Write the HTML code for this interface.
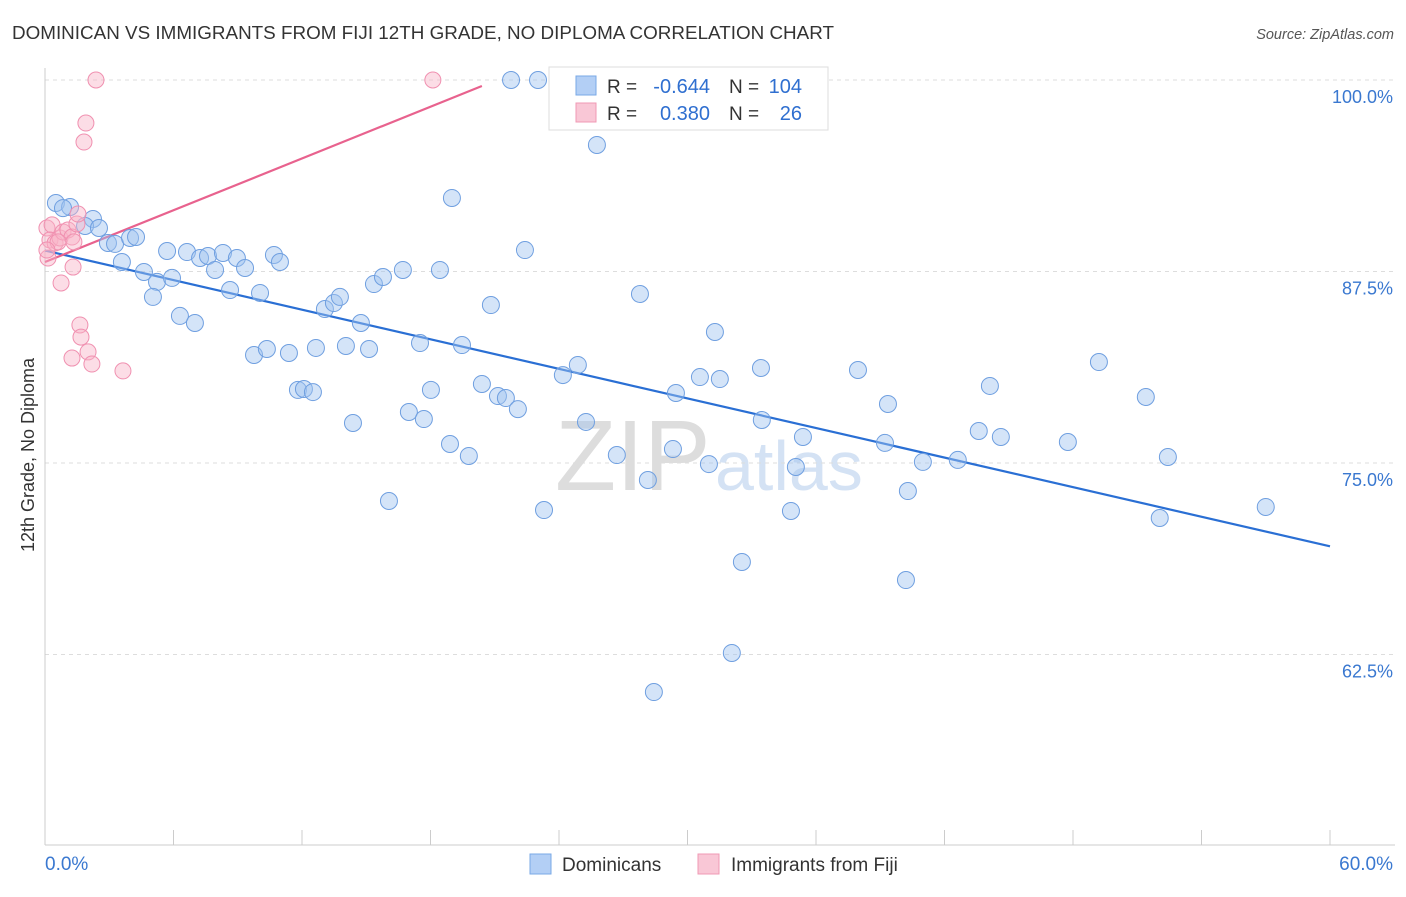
<!DOCTYPE html>
<html><head><meta charset="utf-8"><style>
body{margin:0;background:#fff;font-family:"Liberation Sans",sans-serif}
svg text{font-family:"Liberation Sans",sans-serif}
</style></head><body>
<svg id="chart" width="1406" height="892" xmlns="http://www.w3.org/2000/svg">
<text x="12" y="39" font-size="18" fill="#333" textLength="822" lengthAdjust="spacingAndGlyphs">DOMINICAN VS IMMIGRANTS FROM FIJI 12TH GRADE, NO DIPLOMA CORRELATION CHART</text>
<text x="1394" y="39" font-size="14.5" fill="#555" font-style="italic" text-anchor="end">Source: ZipAtlas.com</text>
<text transform="translate(34,455) rotate(-90)" font-size="18" fill="#333" text-anchor="middle">12th Grade, No Diploma</text>
<text x="555" y="490" font-size="100" fill="#ddd" font-family="Liberation Serif">ZIP</text>
<text x="715" y="490" font-size="70" fill="#d4e2f4">atlas</text>
<g id="grid"></g><g id="axes"></g><g id="trends"></g><g id="pts"></g>
<g>
<rect x="549" y="67" width="279" height="63" fill="#fff" stroke="#ddd"/>
<rect x="576" y="76" width="20" height="19" fill="#b3cff5" stroke="#7aa8e6"/>
<rect x="576" y="103" width="20" height="19" fill="#f9c7d6" stroke="#f09ab4"/>
<text x="607" y="93" font-size="19" fill="#333">R =</text>
<text x="710" y="93" font-size="20" fill="#2f6fd0" text-anchor="end">-0.644</text>
<text x="729" y="93" font-size="19" fill="#333">N =</text>
<text x="802" y="93" font-size="20" fill="#2f6fd0" text-anchor="end">104</text>
<text x="607" y="120" font-size="19" fill="#333">R =</text>
<text x="710" y="120" font-size="20" fill="#2f6fd0" text-anchor="end">0.380</text>
<text x="729" y="120" font-size="19" fill="#333">N =</text>
<text x="802" y="120" font-size="20" fill="#2f6fd0" text-anchor="end">26</text>
</g>
<g>
<rect x="530" y="854" width="21" height="20" fill="#b3cff5" stroke="#7aa8e6"/>
<text x="562" y="871" font-size="19" fill="#333">Dominicans</text>
<rect x="698" y="854" width="21" height="20" fill="#f9c7d6" stroke="#f09ab4"/>
<text x="731" y="871" font-size="19" fill="#333">Immigrants from Fiji</text>
</g>
</svg>
<script>
const yTicks=[100,87.5,75,62.5];
const yTickLabels=["100.0%","87.5%","75.0%","62.5%"];
const xTickVals=[0,6,12,18,24,30,36,42,48,54,60];
const blueX=[.51,1.17,.84,2.24,1.87,2.52,2.94,3.27,3.97,4.25,3.59,4.62,5.23,5.93,5.04,5.70,6.63,7.24,7.61,7.94,8.31,8.96,9.34,8.64,10.04,10.69,10.97,6.30,7.00,9.76,10.36,11.39,12.65,11.81,12.09,12.51,13.07,13.49,13.77,14.75,14.05,15.13,15.36,15.78,16.71,18.44,19.00,20.82,17.51,19.47,18.02,16.99,17.69,14.38,16.06,18.91,19.79,20.40,21.15,21.52,22.08,22.41,21.76,23.02,25.77,24.18,24.88,25.26,23.30,26.70,27.78,28.15,29.32,29.46,30.58,31.00,31.28,31.51,32.54,32.07,28.43,33.43,33.47,35.06,34.83,35.39,37.96,39.36,39.22,40.29,40.20,40.99,42.62,43.60,44.12,44.63,47.76,49.21,51.40,52.43,52.05,57.00];
const blueY=[91.97,91.71,91.64,90.93,90.47,90.34,89.36,89.30,89.69,89.75,88.12,87.47,86.82,87.08,85.84,88.84,88.77,88.38,88.51,87.60,88.71,88.38,87.73,86.29,86.10,88.58,88.12,84.60,84.14,82.05,82.44,82.18,82.51,79.77,79.83,79.63,85.05,85.44,85.84,84.14,82.64,82.44,86.68,87.14,87.60,87.60,92.30,85.31,82.83,82.70,79.77,78.33,77.87,77.61,72.52,76.24,75.46,80.16,79.37,79.24,78.52,88.90,100,100,95.76,80.74,81.40,77.68,71.93,75.52,86.03,73.89,75.91,79.57,80.61,74.93,83.55,80.48,68.54,62.60,60.05,81.20,77.81,74.74,71.87,76.70,81.07,78.85,76.31,73.17,67.36,75.07,75.20,77.09,80.03,76.70,76.37,81.59,79.31,75.39,71.41,72.13];
const pinkX=[.09,.33,.23,.47,.70,.84,1.07,1.26,1.49,1.54,1.35,.61,.14,1.31,.75,1.63,1.68,1.26,2.01,2.19,3.64,1.82,1.91,2.38,18.11,.09];
const pinkY=[90.34,90.54,89.56,89.36,89.69,90.08,90.21,89.75,90.60,91.25,89.43,89.43,88.38,87.79,86.75,84.01,83.22,81.85,82.25,81.46,81.01,95.95,97.19,100,100,88.90];
const blueTrend=[[0,88.87],[60,69.56]];
const pinkTrend=[[0,88.12],[20.4,99.61]];
const NS="http://www.w3.org/2000/svg";
const X=v=>45+v*1285/60;
const Y=v=>80+(100-v)*15.32;
function mk(t,a,p){const e=document.createElementNS(NS,t);for(const k in a)e.setAttribute(k,a[k]);document.getElementById(p).appendChild(e);return e;}
yTicks.forEach((t,i)=>{
 const l=mk('line',{x1:45,x2:1395,y1:Y(t),y2:Y(t),stroke:'#ddd','stroke-dasharray':'4,4'},'grid');
 
 
 const tx=mk('text',{x:1393,y:Y(t)+23,'font-size':18,fill:'#3a78d0','text-anchor':'end'},'grid');tx.textContent=yTickLabels[i];
 
 
});
const ax=mk('line',{x1:45,x2:1395,y1:845,y2:845,stroke:'#ccc'},'axes');


const ay=mk('line',{x1:45,x2:45,y1:68,y2:845,stroke:'#ccc'},'axes');


xTickVals.forEach(v=>{const t=mk('line',{x1:X(v),x2:X(v),y1:830,y2:845,stroke:'#ccc'},'axes');
 
 });
let t0=mk('text',{x:45,y:870,'font-size':19,fill:'#3a78d0'},'axes');t0.textContent='0.0%';


let t1=mk('text',{x:1393,y:870,'font-size':19,fill:'#3a78d0','text-anchor':'end'},'axes');t1.textContent='60.0%';


blueX.forEach((v,i)=>{const c=mk('circle',{cx:X(v),cy:Y(blueY[i]),r:8.5,fill:'rgba(160,195,240,0.45)',stroke:'#6f9fe0','stroke-width':1},'pts');
 
 });
pinkX.forEach((v,i)=>{const c=mk('circle',{cx:X(v),cy:Y(pinkY[i]),r:8,fill:'rgba(248,180,200,0.45)',stroke:'#f090b0','stroke-width':1},'pts');
 
 });
const bl=mk('line',{x1:X(blueTrend[0][0]),y1:Y(blueTrend[0][1]),x2:X(blueTrend[1][0]),y2:Y(blueTrend[1][1]),stroke:'#2a6fd4','stroke-width':2.2},'trends');


const pl=mk('line',{x1:X(pinkTrend[0][0]),y1:Y(pinkTrend[0][1]),x2:X(pinkTrend[1][0]),y2:Y(pinkTrend[1][1]),stroke:'#e8628e','stroke-width':2.2},'trends');


</script>
</body></html>
